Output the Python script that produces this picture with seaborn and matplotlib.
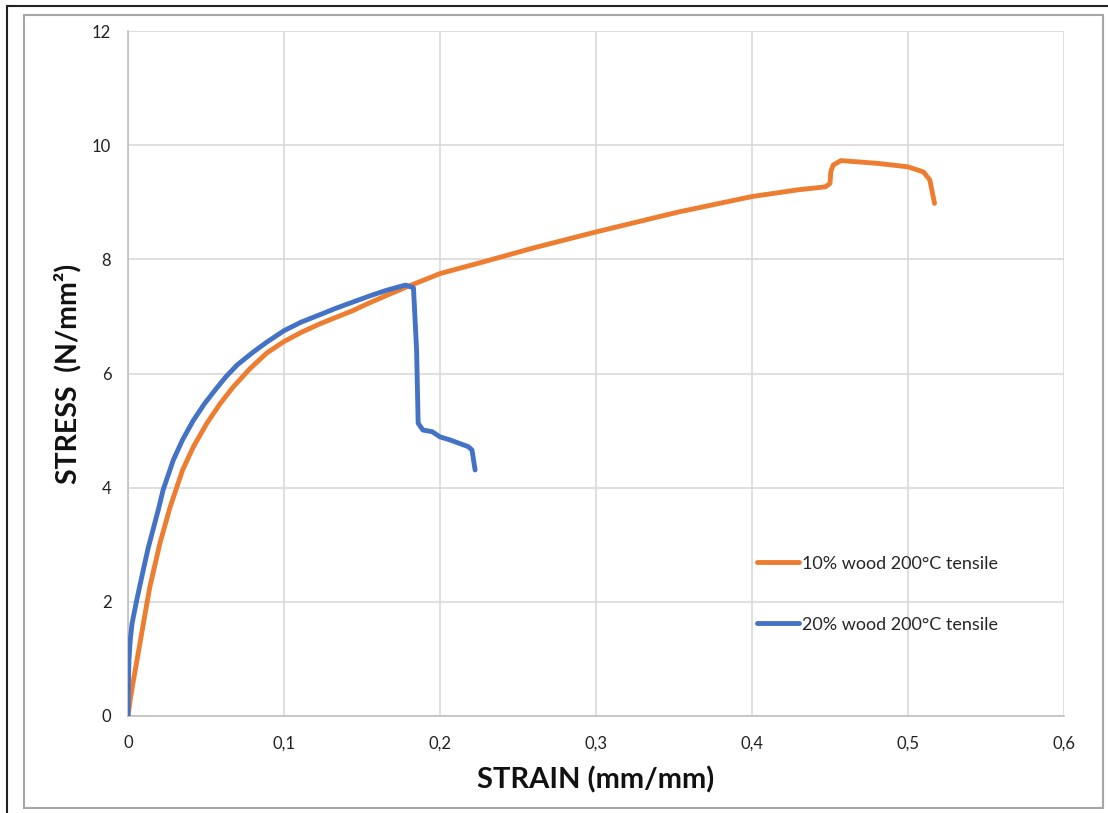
import matplotlib
matplotlib.use("Agg")
import matplotlib.pyplot as plt
import seaborn as sns
import pandas as pd
from matplotlib.patches import Rectangle

# ---- data ----
orange_strain = [0, 0.0015, 0.0032, 0.0077, 0.011, 0.014, 0.0205, 0.027, 0.035, 0.042,
                 0.0506, 0.059, 0.0673, 0.078, 0.089, 0.1, 0.111, 0.123, 0.133, 0.144,
                 0.155, 0.166, 0.178, 0.19, 0.2, 0.227, 0.26, 0.3, 0.353, 0.4,
                 0.43, 0.447, 0.45, 0.4505, 0.452, 0.457, 0.481, 0.5, 0.51, 0.514, 0.517]
orange_stress = [0, 0.3, 0.58, 1.28, 1.8, 2.26, 3.03, 3.66, 4.31, 4.72,
                 5.13, 5.47, 5.76, 6.08, 6.36, 6.56, 6.72, 6.87, 6.98, 7.1,
                 7.24, 7.37, 7.51, 7.64, 7.75, 7.95, 8.2, 8.48, 8.83, 9.1,
                 9.22, 9.27, 9.33, 9.53, 9.65, 9.73, 9.68, 9.62, 9.53, 9.39, 8.98]

blue_strain = [0, 0.0003, 0.0006, 0.0015, 0.0026, 0.0056, 0.0098, 0.013, 0.016, 0.0195,
               0.0225, 0.029, 0.035, 0.0417, 0.049, 0.057, 0.063, 0.07, 0.08, 0.089,
               0.1, 0.111, 0.123, 0.133, 0.144, 0.155, 0.166, 0.178, 0.183, 0.185,
               0.186, 0.189, 0.195, 0.2, 0.206, 0.218, 0.2205, 0.2225]
blue_stress = [0, 0.6, 0.98, 1.35, 1.62, 2.03, 2.56, 2.95, 3.26, 3.62,
               3.96, 4.48, 4.84, 5.17, 5.47, 5.75, 5.95, 6.15, 6.37, 6.55,
               6.75, 6.9, 7.03, 7.14, 7.25, 7.36, 7.46, 7.55, 7.5, 6.41,
               5.13, 5.01, 4.98, 4.89, 4.84, 4.72, 4.66, 4.31]

series_names = ["10% wood 200°C tensile", "20% wood 200°C tensile"]
series_colors = ["#ED7D31", "#4472C4"]

x_ticks = [0, 0.1, 0.2, 0.3, 0.4, 0.5, 0.6]
x_tick_labels = ["0", "0,1", "0,2", "0,3", "0,4", "0,5", "0,6"]
y_ticks = [0, 2, 4, 6, 8, 10, 12]
y_tick_labels = ["0", "2", "4", "6", "8", "10", "12"]

# ---- styling ----
sns.set_theme(style="white")
plt.rcParams['font.family'] = ['Lato', 'DejaVu Sans']

fig = plt.figure(figsize=(11.08, 8.13), dpi=100)
fig.patch.set_facecolor("white")
ax = fig.add_axes([128 / 1108, 1 - 716 / 813, (1064 - 128) / 1108, (716 - 31) / 813])

df_o = pd.DataFrame({"strain": orange_strain, "stress": orange_stress})
df_b = pd.DataFrame({"strain": blue_strain, "stress": blue_stress})

sns.lineplot(data=df_o, x="strain", y="stress", sort=False, estimator=None,
             color=series_colors[0], linewidth=3.5, label=series_names[0], ax=ax,
             solid_capstyle="round", solid_joinstyle="round", zorder=3)
sns.lineplot(data=df_b, x="strain", y="stress", sort=False, estimator=None,
             color=series_colors[1], linewidth=3.5, label=series_names[1], ax=ax,
             solid_capstyle="round", solid_joinstyle="round", zorder=4)

ax.set_xlim(0, 0.6)
ax.set_ylim(0, 12)
ax.set_xticks(x_ticks)
ax.set_xticklabels(x_tick_labels)
ax.set_yticks(y_ticks)
ax.set_yticklabels(y_tick_labels)
ax.tick_params(axis="both", length=0, labelsize=12, colors="#222222")
ax.tick_params(axis="x", pad=14)
ax.tick_params(axis="y", pad=12)

ax.grid(True, color="#d9d9d9", linewidth=1.2)
ax.set_axisbelow(True)
for side in ["top", "right"]:
    ax.spines[side].set_visible(False)
for side in ["left", "bottom"]:
    ax.spines[side].set_color("#bfbfbf")
    ax.spines[side].set_linewidth(1.2)

ax.set_xlabel("STRAIN (mm/mm)", fontsize=21, fontweight="bold", labelpad=11, color="#111111")
ax.set_ylabel("STRESS  (N/mm²)", fontsize=20.5, fontweight="bold", color="#111111")
ax.yaxis.set_label_coords(-0.050, 0.5)

leg = ax.legend(loc="upper left", bbox_to_anchor=(0.655, 0.258), frameon=False,
                fontsize=13, handlelength=2.3, handletextpad=0.15, labelspacing=2.5)
for line in leg.get_lines():
    line.set_linewidth(3.5)
    line.set_solid_capstyle("round")

# frames around the chart
fig.add_artist(Rectangle((24 / 1108, 1 - 808 / 813), (1103 - 24) / 1108, (808 - 15) / 813,
                         transform=fig.transFigure, fill=False, edgecolor="#a6a6a6", linewidth=1.5))
fig.add_artist(Rectangle((7 / 1108, -0.05), 1.2, 1 - 6 / 813 + 0.05,
                         transform=fig.transFigure, fill=False, edgecolor="#222222", linewidth=1.5))

fig.savefig("out.png", dpi=100)
